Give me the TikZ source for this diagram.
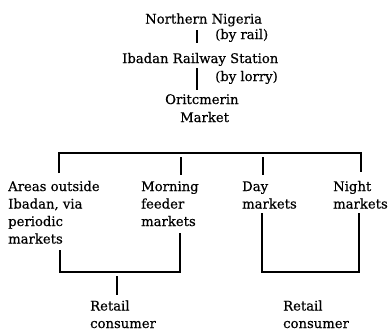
\documentclass[tikz,border=0pt]{standalone}
\usepackage{fontspec}
\setmainfont{DejaVu Serif}
\newfontfamily\lblfont{DejaVu Serif}[FakeBold=0.5]
\begin{document}
\begin{tikzpicture}[x=1pt,y=-1pt,
  lbl/.style={inner sep=0pt, font=\lblfont\fontsize{13.2}{17.5}\selectfont, align=left, anchor=base west},
  link/.style={line width=1.2pt}]
\useasboundingbox (0,0) rectangle (391,330);
% texts (multi-line nodes are placed by the baseline of their last line)
\node[lbl] (nn) at (145,23.5) {Northern Nigeria};
\node[lbl] (rail) at (215,39) {(by rail)};
\node[lbl] (ibs) at (122,63) {Ibadan Railway Station};
\node[lbl] (lorry) at (215,81) {(by lorry)};
\node[lbl] (om1) at (165,104) {Oritcmerin};
\node[lbl] (om2) at (180,122) {Market};
\node[lbl] (areas) at (8,243.5) {Areas outside\\Ibadan, via\\periodic\\markets};
\node[lbl] (morn) at (141,226) {Morning\\feeder\\markets};
\node[lbl] (day) at (242,208.5) {Day\\markets};
\node[lbl] (night) at (333,208.5) {Night\\markets};
\node[lbl] (rc1) at (90,328) {Retail\\consumer};
\node[lbl] (rc2) at (283,328) {Retail\\consumer};
% coordinates
\coordinate (a1) at (197,30); \coordinate (a2) at (197,43);
\coordinate (b1) at (197,68); \coordinate (b2) at (197,90);
\coordinate (hL) at (59,153); \coordinate (hR) at (361,153);
\coordinate (dA) at (59,173);
\coordinate (mT) at (181,157); \coordinate (mB) at (181,175);
\coordinate (yT) at (263,157); \coordinate (yB) at (263,175);
\coordinate (nB) at (361,172);
\coordinate (lA) at (60,250); \coordinate (lAb) at (60,272);
\coordinate (lM) at (180,233); \coordinate (lMb) at (180,272);
\coordinate (cT) at (117,276); \coordinate (cB) at (117,295);
\coordinate (rD) at (262,213); \coordinate (rDb) at (262,272);
\coordinate (rN) at (359,213); \coordinate (rNb) at (359,272);
% connectors
\draw[link] (a1) -- (a2);
\draw[link] (b1) -- (b2);
\draw[link] (dA) -- (hL) -- (hR) -- (nB);
\draw[link] (mT) -- (mB);
\draw[link] (yT) -- (yB);
\draw[link] (lA) -- (lAb) -- (lMb) -- (lM);
\draw[link] (cT) -- (cB);
\draw[link] (rD) -- (rDb) -- (rNb) -- (rN);
\end{tikzpicture}
\end{document}
